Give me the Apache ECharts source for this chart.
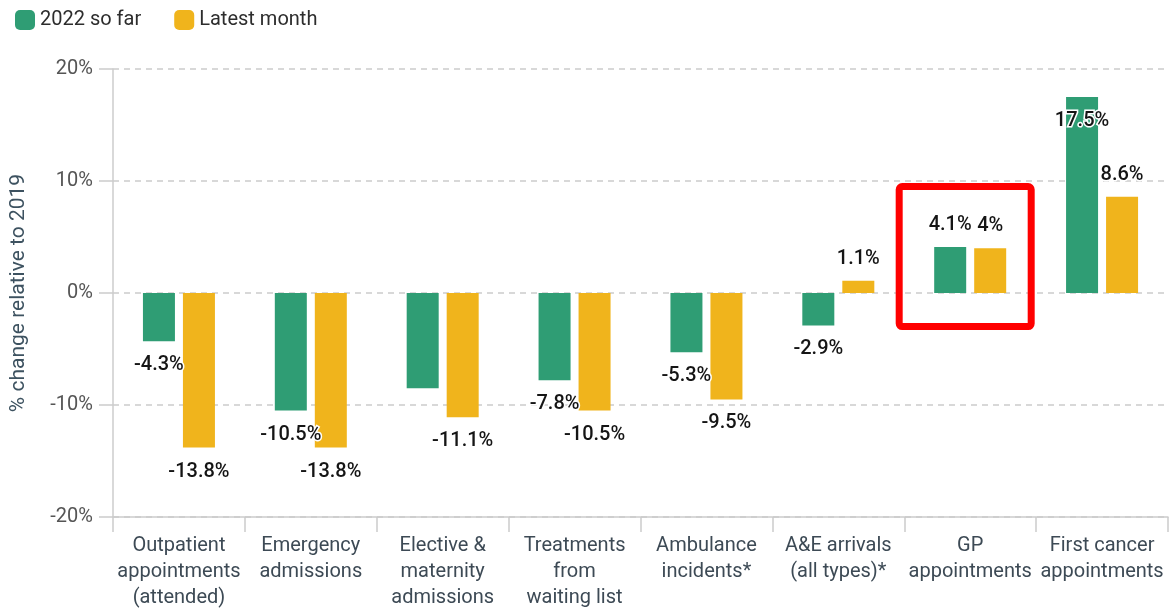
<!DOCTYPE html>
<html>
<head>
<meta charset="utf-8">
<script src="https://cdn.jsdelivr.net/npm/echarts@6/dist/echarts.min.js"></script>
<style>
  html, body { margin: 0; padding: 0; background: #fff; }
  #chart { width: 1170px; height: 611px; }
</style>
</head>
<body>
<div id="chart"></div>
<script>
// categories on the x axis
const categories = [
  'Outpatient\nappointments\n(attended)',
  'Emergency\nadmissions',
  'Elective &\nmaternity\nadmissions',
  'Treatments\nfrom\nwaiting list',
  'Ambulance\nincidents*',
  'A&E arrivals\n(all types)*',
  'GP\nappointments',
  'First cancer\nappointments'
]
// % change relative to 2019
const soFar2022 = [-4.3, -10.5, -8.5, -7.8, -5.3, -2.9, 4.1, 17.5]
const latestMonth = [-13.8, -13.8, -11.1, -10.5, -9.5, 1.1, 4, 8.6]
const yTicks = [-20, -10, 0, 10, 20]
const highlighted = 'GP\nappointments'

const GREEN = '#2f9d74'
const YELLOW = '#f0b41c'
const FONT = 'Roboto, "Liberation Sans", sans-serif'

const labelStyle = {
  show: true,
  fontFamily: FONT,
  fontSize: 20,
  fontWeight: 500,
  color: '#151515',
  textBorderColor: '#fff',
  textBorderWidth: 3,
  formatter: p => p.value + '%'
}

// positives above, negatives below
const toData = (arr, hide) => arr.map((v, i) => {
  const item = { value: v, label: { position: v >= 0 ? 'top' : 'bottom', distance: v >= 0 ? 12 : 14 } }
  if (hide && hide.includes(i)) item.label.show = false
  return item
})

const greenData = toData(soFar2022, [2])
// the tallest label sits inside the top of its bar
greenData[7].label = { position: 'insideTop', distance: 14 }

const chart = echarts.init(document.getElementById('chart'))

const option = {
  animation: false,
  textStyle: { fontFamily: FONT },
  legend: {
    left: 10,
    top: 5,
    itemWidth: 20,
    itemHeight: 20,
    itemGap: 33,
    icon: 'roundRect',
    textStyle: { fontSize: 20, color: '#2d2d2d', fontFamily: FONT },
    data: ['2022 so far', 'Latest month']
  },
  grid: { left: 110, right: 2, top: 69, bottom: 89 },
  xAxis: {
    type: 'category',
    data: categories,
    axisLine: { onZero: false, lineStyle: { color: '#ccc', width: 1.5 } },
    axisTick: { show: true, length: 15, lineStyle: { color: '#ccc', width: 1.5 } },
    axisLabel: {
      interval: 0,
      margin: 16,
      fontSize: 20,
      lineHeight: 26,
      color: '#3d4a55',
      fontFamily: FONT
    }
  },
  yAxis: {
    type: 'value',
    min: yTicks[0],
    max: yTicks[yTicks.length - 1],
    interval: 10,
    name: '% change relative to 2019',
    nameLocation: 'middle',
    nameGap: 84,
    nameTextStyle: { fontSize: 21, color: '#3d5260', fontFamily: FONT },
    axisLine: { show: true, lineStyle: { color: '#ccc', width: 1.5 } },
    axisTick: { show: true, length: 14, lineStyle: { color: '#ccc', width: 1.5 } },
    axisLabel: {
      margin: 20,
      fontSize: 20,
      color: '#555',
      fontFamily: FONT,
      formatter: v => v + '%'
    },
    splitLine: { lineStyle: { color: '#ccc', type: [6, 5], width: 1.5 } }
  },
  series: [
    {
      name: '2022 so far',
      type: 'bar',
      data: greenData,
      barWidth: 32,
      barGap: '25%',
      itemStyle: { color: GREEN },
      label: labelStyle
    },
    {
      name: 'Latest month',
      type: 'bar',
      data: toData(latestMonth),
      barWidth: 32,
      itemStyle: { color: YELLOW },
      label: labelStyle
    }
  ]
}

chart.setOption(option)

// red highlight box around the GP group
const boxX = chart.convertToPixel({ xAxisIndex: 0 }, highlighted)
const boxTop = chart.convertToPixel({ yAxisIndex: 0 }, 9.5)
const boxBottom = chart.convertToPixel({ yAxisIndex: 0 }, -3)
chart.setOption({
  graphic: [{
    type: 'rect',
    shape: { x: boxX - 71, y: boxTop, width: 132, height: boxBottom - boxTop, r: 3 },
    style: { fill: 'none', stroke: '#ff0000', lineWidth: 7 },
    z: 100
  }]
})
</script>
</body>
</html>
